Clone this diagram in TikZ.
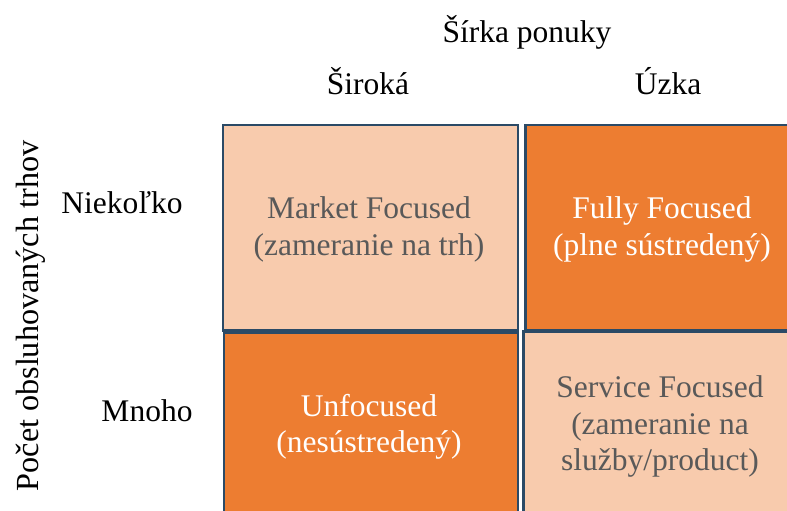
\documentclass[tikz,border=0pt]{standalone}
\usepackage{fontspec}
\setmainfont{Liberation Serif}
\definecolor{lightor}{HTML}{F8CBAD}
\definecolor{darkor}{HTML}{ED7D31}
\definecolor{edge}{HTML}{2B4A66}
\definecolor{graytxt}{HTML}{595959}
\begin{document}
\begin{tikzpicture}[x=1pt,y=-1pt,
  cell/.style={draw=edge,line width=2.6pt,inner sep=0pt,anchor=north west},
  lightcell/.style={cell,fill=lightor},
  darkcell/.style={cell,fill=darkor},
  lbl/.style={font=\fontsize{31.5}{37}\selectfont,anchor=base,inner sep=0pt},
  graylbl/.style={lbl,text=graytxt},
  whitelbl/.style={lbl,text=white}]
\useasboundingbox (0,0) rectangle (787,511);
\begin{scope}
\clip (0,0) rectangle (787,511);
\node[lightcell,minimum width=295pt,minimum height=205.5pt] (tl) at (221.5,123.5) {};
\node[darkcell,minimum width=280pt,minimum height=205.5pt] (tr) at (524,123.5) {};
\node[darkcell,minimum width=294pt,minimum height=200pt] (bl) at (222.5,331) {};
\node[lightcell,minimum width=280pt,minimum height=200pt] (br) at (522,330) {};
\end{scope}
\node[lbl] (title) at (527,43) {Šírka ponuky};
\node[lbl] (wide) at (368,95) {Široká};
\node[lbl] (narrow) at (668,95) {Úzka};
\node[lbl] (few) at (122,213) {Niekoľko};
\node[lbl] (many) at (147,421) {Mnoho};
\node[lbl,font=\fontsize{32.2}{37}\selectfont,rotate=90] (ylab) at (38,316) {Počet obsluhovaných trhov};
\node[graylbl] (mf1) at (369,218) {Market Focused};
\node[graylbl] (mf2) at (369,255) {(zameranie na trh)};
\node[whitelbl] (ff1) at (662,218) {Fully Focused};
\node[whitelbl] (ff2) at (662,255) {(plne sústredený)};
\node[whitelbl] (uf1) at (369,416) {Unfocused};
\node[whitelbl] (uf2) at (369,452) {(nesústredený)};
\node[graylbl] (sf1) at (660,397) {Service Focused};
\node[graylbl] (sf2) at (660,434) {(zameranie na};
\node[graylbl] (sf3) at (660,470) {služby/product)};
\end{tikzpicture}
\end{document}
